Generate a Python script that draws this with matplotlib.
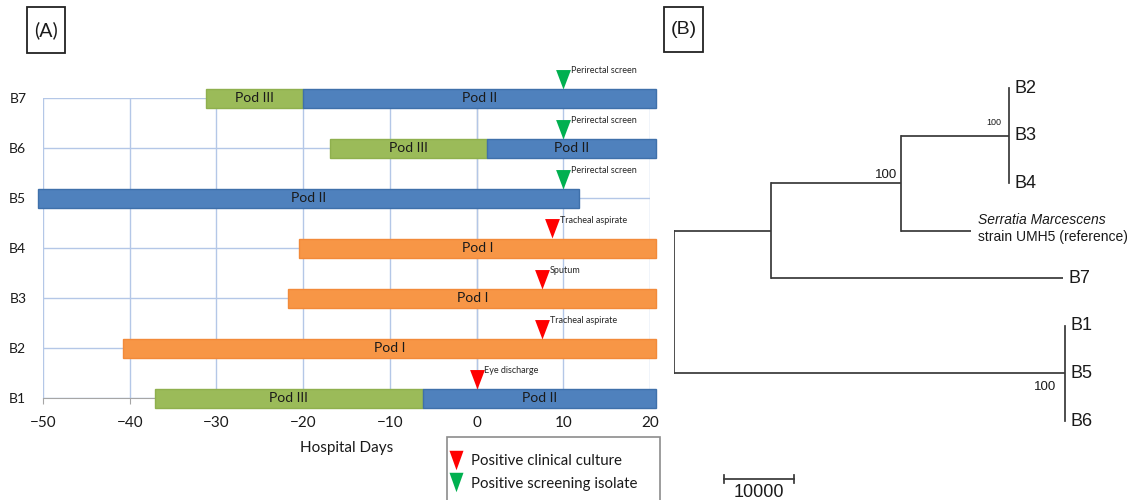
import matplotlib
matplotlib.use("Agg")
import matplotlib.pyplot as plt
from matplotlib.lines import Line2D
from matplotlib.patches import Rectangle

# ---------------- data: panel A (timeline) ----------------
rows = ["B1", "B2", "B3", "B4", "B5", "B6", "B7"]
day_ticks = [-50, -40, -30, -20, -10, 0, 10, 20]

seg_row = ["B7", "B7", "B6", "B6", "B5", "B4", "B3", "B2", "B1", "B1"]
seg_pod = ["Pod III", "Pod II", "Pod III", "Pod II", "Pod II",
           "Pod I", "Pod I", "Pod I", "Pod III", "Pod II"]
seg_start = [-31.2, -20.0, -16.9, 1.2, -50.6, -20.5, -21.7, -40.8, -37.1, -6.2]
seg_end = [-20.0, 20.7, 1.2, 20.7, 11.8, 20.7, 20.7, 20.7, -6.2, 20.7]

iso_row = ["B7", "B6", "B5", "B4", "B3", "B2", "B1"]
iso_day = [10.0, 10.0, 10.0, 8.7, 7.6, 7.6, 0.0]
iso_kind = ["screening", "screening", "screening",
            "clinical", "clinical", "clinical", "clinical"]
iso_source = ["Perirectal screen", "Perirectal screen", "Perirectal screen",
              "Tracheal aspirate", "Sputum", "Tracheal aspirate", "Eye discharge"]
kind_order = ["clinical", "screening"]
kind_labels = ["Positive clinical culture", "Positive screening isolate"]

# ---------------- data: panel B (tree) ----------------
tree_nodes = ["root", "n1", "n2", "c234", "ref", "B7", "c156"]
tree_parent = [None, "root", "n1", "n2", "n2", "n1", "root"]
tree_length = [0, 13800, 18650, 15350, 10000, 41700, 55850]
leaf_order = ["B2", "B3", "B4", "ref", "B7", "B1", "B5", "B6"]
tip_groups = {"c234": ["B2", "B3", "B4"], "ref": ["ref"], "B7": ["B7"],
              "c156": ["B1", "B5", "B6"]}
ref_species = "Serratia Marcescens"
ref_strain = "strain UMH5 (reference)"
support_node = ["n2", "c234", "c156"]
support_value = [100, 100, 100]
scale_length = 10000

# ---------------- figure ----------------
W, H = 1134, 500
fig = plt.figure(figsize=(W / 100, H / 100), dpi=100)


def fx(px):
    return px / W


def fy(py):
    return 1 - py / H


FA = "Lato"
FB = "Liberation Sans"
txt = "#1a1a1a"

# ---------- panel A ----------
ax = fig.add_axes([fx(43), fy(398), fx(650) - fx(43), fy(98) - fy(398)])
ax.set_xlim(-50, 20)
ax.set_ylim(1, 7)
row_y = {r: i + 1 for i, r in enumerate(rows)}

gridc = "#b4c7e7"
ax.set_xticks(day_ticks)
ax.set_xticklabels([("\u2212%d" % -d) if d < 0 else str(d) for d in day_ticks],
                   fontsize=11, family=FA, color=txt)
ax.set_yticks([row_y[r] for r in rows])
ax.set_yticklabels(rows, fontsize=10, family=FA, color=txt)
ax.grid(True, color=gridc, lw=1)
ax.set_axisbelow(True)
ax.axvline(0, color="#c8c8c8", lw=1, zorder=0.5)
for s in ["top", "right", "left"]:
    ax.spines[s].set_visible(False)
ax.spines["bottom"].set_color("#a6a6a6")
ax.tick_params(axis="y", length=0, pad=12)
ax.tick_params(axis="x", length=4, color="#a6a6a6", pad=9)
ax.set_xlabel("Hospital Days", fontsize=11, family=FA, color=txt, labelpad=8)

pod_colors = {"Pod I": "#F79646", "Pod II": "#4F81BD", "Pod III": "#9BBB59"}
pod_edges = {"Pod I": "#F28A3A", "Pod II": "#3F70AA", "Pod III": "#8FB04E"}
bar_h = 0.38
for r, pod, a, b in zip(seg_row, seg_pod, seg_start, seg_end):
    ax.barh(row_y[r], b - a, left=a, height=bar_h, color=pod_colors[pod],
            edgecolor=pod_edges[pod], lw=1, zorder=3, clip_on=False)
    ax.text((a + b) / 2, row_y[r], pod, ha="center", va="center",
            fontsize=10, family=FA, color=txt, zorder=4)

kind_colors = {"clinical": "#FF0000", "screening": "#00B050"}
tip_marker = [(-0.38, 1.0), (0.38, 1.0), (0.0, 0.0), (-0.38, 1.0)]
for r, d, k, src in zip(iso_row, iso_day, iso_kind, iso_source):
    y = row_y[r] + bar_h / 2
    ax.plot(d, y, marker=tip_marker, ms=28, color=kind_colors[k], mew=0,
            ls="none", zorder=6, clip_on=False)
    ax.annotate(src, (d, y), xytext=(5.5, 13), textcoords="offset points",
                ha="left", va="center", fontsize=6.5, family=FA,
                color="#262626", zorder=7, annotation_clip=False)

# legend: frame drawn separately (it runs off the bottom edge in the original)
fig.add_artist(Rectangle((fx(447), fy(520)), fx(660) - fx(447), fy(437) - fy(520),
                         transform=fig.transFigure, fill=False, ec="#8c8c8c", lw=1.2))
center_marker = [(-0.36, 0.5), (0.36, 0.5), (0.0, -0.5), (-0.36, 0.5)]
handles = [Line2D([], [], marker=center_marker, ms=14, mew=0, ls="none",
                  color=kind_colors[k]) for k in kind_order]
leg = ax.legend(handles, kind_labels, loc="upper left",
                bbox_to_anchor=(fx(451.5), fy(449)),
                bbox_transform=fig.transFigure, frameon=False,
                borderaxespad=0, borderpad=0, labelspacing=0.58,
                handlelength=0.6, handletextpad=0.7,
                prop={"family": FA, "size": 10.8})
leg.set_bbox_to_anchor((fx(451.5), fy(454)), transform=fig.transFigure)
for t in leg.get_texts():
    t.set_color(txt)

# ---------- panel B ----------
ax2 = fig.add_axes([fx(674), 0, fx(1134) - fx(674), 1])
ax2.set_xlim(0, 65700)
ax2.set_ylim(8.66, -1.85)
ax2.axis("off")

lc = "#383838"
lw = 1.25
node_x = {}
for n, p, L in zip(tree_nodes, tree_parent, tree_length):
    node_x[n] = (node_x[p] if p else 0) + L
children = {n: [c for c, p in zip(tree_nodes, tree_parent) if p == n] for n in tree_nodes}
leaf_y = {name: i for i, name in enumerate(leaf_order)}
node_y = {}


def get_y(n):
    if n in tip_groups:
        v = sum(leaf_y[m] for m in tip_groups[n]) / len(tip_groups[n])
    else:
        v = sum(get_y(c) for c in children[n]) / len(children[n])
    node_y[n] = v
    return v


get_y("root")

for n, p in zip(tree_nodes, tree_parent):
    if p is not None:
        ax2.plot([node_x[p], node_x[n]], [node_y[n], node_y[n]], color=lc, lw=lw,
                 solid_capstyle="butt")
    if children[n]:
        ys = [node_y[c] for c in children[n]]
        ax2.plot([node_x[n]] * 2, [min(ys), max(ys)], color=lc, lw=lw,
                 solid_capstyle="projecting")
    if n in tip_groups:
        members = tip_groups[n]
        ys = [leaf_y[m] for m in members]
        if len(members) > 1:
            ax2.plot([node_x[n]] * 2, [min(ys), max(ys)], color=lc, lw=lw)
        for m in members:
            if m == "ref":
                ax2.annotate(ref_species, (node_x[n], leaf_y[m]), xytext=(5, 7.5),
                             textcoords="offset points", ha="left", va="center",
                             fontsize=10, family=FB, style="italic", color=txt)
                ax2.annotate(ref_strain, (node_x[n], leaf_y[m]), xytext=(5, -4.5),
                             textcoords="offset points", ha="left", va="center",
                             fontsize=10, family=FB, color=txt)
            else:
                ax2.annotate(m, (node_x[n], leaf_y[m]), xytext=(4, 0),
                             textcoords="offset points", ha="left", va="center",
                             fontsize=13, family=FB, color=txt)

support_style = {"n2": ((-3, 6), 9.5), "c234": ((-5.5, 9.5), 6.5), "c156": ((-6, -10), 9.5)}
for n, v in zip(support_node, support_value):
    off, fs = support_style[n]
    ax2.annotate(str(v), (node_x[n], node_y[n]), xytext=off, textcoords="offset points",
                 ha="right", va="center", fontsize=fs, family=FB, color=txt)

sb_x0, sb_y = 7150, 8.22
ax2.plot([sb_x0, sb_x0 + scale_length], [sb_y, sb_y], color=lc, lw=lw, clip_on=False)
for xx in (sb_x0, sb_x0 + scale_length):
    ax2.plot([xx, xx], [sb_y - 0.09, sb_y + 0.09], color=lc, lw=lw, clip_on=False)
ax2.text(sb_x0 + scale_length / 2, sb_y + 0.28, str(scale_length), ha="center",
         va="center", fontsize=13, family=FB, color=txt)

# ---------- panel tags ----------
for (x0, y0, x1, y1), lab, fam in [((27, 7, 65, 53), "(A)", FA), ((664, 7, 703, 52), "(B)", FB)]:
    fig.add_artist(Rectangle((fx(x0), fy(y1)), fx(x1) - fx(x0), fy(y0) - fy(y1),
                             transform=fig.transFigure, fill=False, ec="#222222", lw=1.3))
    fig.text(fx((x0 + x1) / 2), fy((y0 + y1) / 2), lab, ha="center", va="center",
             fontsize=14, family=fam, color=txt)

fig.savefig("out.png", dpi=100)
